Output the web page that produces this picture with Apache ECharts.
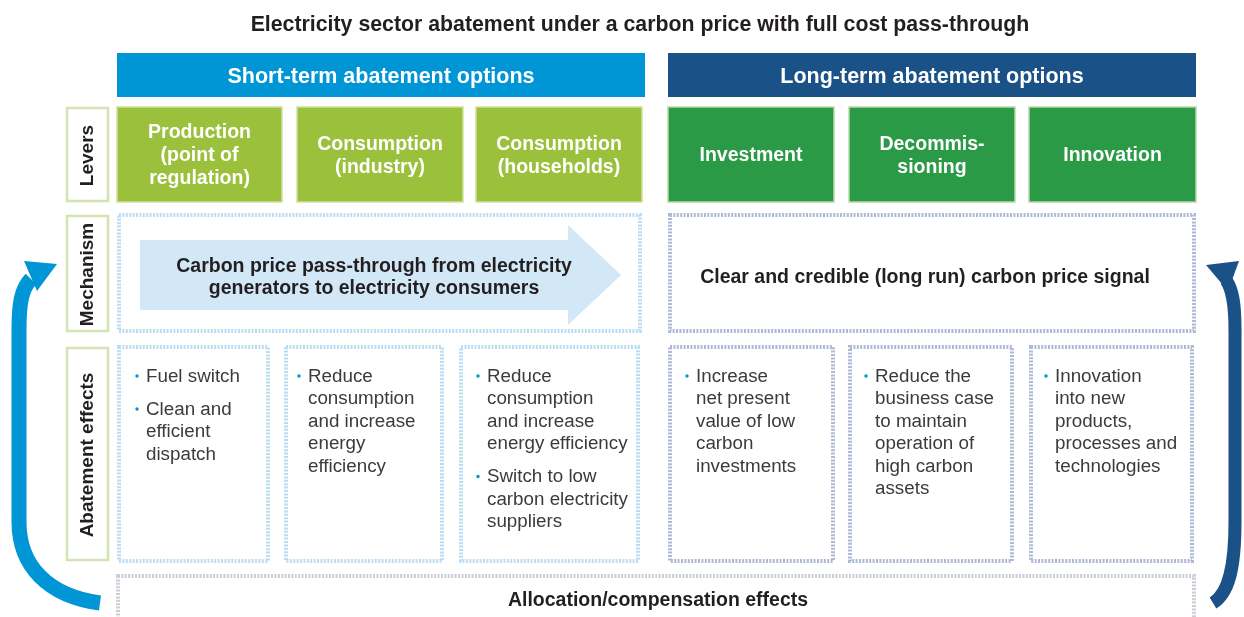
<!DOCTYPE html>
<html>
<head>
<meta charset="utf-8">
<script src="https://cdn.jsdelivr.net/npm/echarts@6/dist/echarts.min.js"></script>
<style>
html,body{margin:0;padding:0;background:#fff;}
#chart{width:1244px;height:617px;}
</style>
</head>
<body>
<div id="chart"></div>
<script>
// ---- content data ----
const title = 'Electricity sector abatement under a carbon price with full cost pass-through';
const horizons = ['Short-term abatement options', 'Long-term abatement options'];
const rowLabels = ['Levers', 'Mechanism', 'Abatement effects'];
const shortLevers = ['Production\n(point of\nregulation)', 'Consumption\n(industry)', 'Consumption\n(households)'];
const longLevers = ['Investment', 'Decommis-\nsioning', 'Innovation'];
const mechanisms = ['Carbon price pass-through from electricity\ngenerators to electricity consumers',
                    'Clear and credible (long run) carbon price signal'];
const effects = [
  [['Fuel switch'], ['Clean and', 'efficient', 'dispatch']],
  [['Reduce', 'consumption', 'and increase', 'energy', 'efficiency']],
  [['Reduce', 'consumption', 'and increase', 'energy efficiency'], ['Switch to low', 'carbon electricity', 'suppliers']],
  [['Increase', 'net present', 'value of low', 'carbon', 'investments']],
  [['Reduce the', 'business case', 'to maintain', 'operation of', 'high carbon', 'assets']],
  [['Innovation', 'into new', 'products,', 'processes and', 'technologies']]
];
const footer = 'Allocation/compensation effects';

// ---- layout ----
const FONT = '"Liberation Sans", Arial, Helvetica, sans-serif';
const C = {
  dark: '#231f20', text: '#3b3b3b', blue: '#0096d6', navy: '#1a5186',
  lightGreen: '#9bc13c', darkGreen: '#2a9a47', labelBorder: '#d4e4ae',
  dotLeft: '#bcdcf2', dotRight: '#afb8d6', dotBottom: '#cbced7', arrowFill: '#d3e8f7'
};
const headerBoxes = [[117, 645, C.blue], [668, 1196, C.navy]];
const leverX = [[117, 282], [297, 463], [476, 642], [668, 834], [849, 1015], [1029, 1196]];
const rowY = [[107, 202], [215, 332], [347, 561]];
const effectX = [[117, 270], [284, 444], [459, 640], [668, 835], [848, 1014], [1029, 1194]];
const textOffsets = [29, 24, 28, 28, 27, 26];

const g = [];
function txt(x, y, text, size, weight, fill, align, valign, lh, extra) {
  const el = {
    type: 'text', x: x, y: y, silent: true,
    style: {
      x: 0, y: 0, text: text, fill: fill,
      fontSize: size, fontWeight: weight, fontFamily: FONT,
      align: align, verticalAlign: valign, textAlign: align, textVerticalAlign: valign,
      lineHeight: lh || Math.round(size * 1.2)
    }
  };
  return Object.assign(el, extra || {});
}
function dotted(x1, y1, x2, y2, color) {
  g.push({
    type: 'rect', silent: true,
    shape: { x: x1 + 2, y: y1 + 2, width: x2 - x1 - 4, height: y2 - y1 - 4 },
    style: { fill: null, stroke: color, lineWidth: 4, lineDash: [2, 1.4] }
  });
}

// title
g.push(txt(640, 25.5, title, 21.3, 'bold', C.dark, 'center', 'middle'));

// horizon headers
headerBoxes.forEach((b, i) => {
  g.push({ type: 'rect', silent: true, shape: { x: b[0], y: 53, width: b[1] - b[0], height: 44 }, style: { fill: b[2] } });
  g.push(txt((b[0] + b[1]) / 2, 77.5, horizons[i], 21.5, 'bold', '#fff', 'center', 'middle'));
});

// row labels
rowLabels.forEach((lab, i) => {
  const y1 = rowY[i][0], y2 = rowY[i][1];
  g.push({ type: 'rect', silent: true, shape: { x: 67, y: y1 + 1, width: 41, height: y2 - y1 - 2 },
           style: { fill: '#fff', stroke: C.labelBorder, lineWidth: 2.5 } });
  g.push(txt(88, (y1 + y2) / 2 + 1, lab, 19, 'bold', C.dark, 'center', 'middle', 22, { rotation: Math.PI / 2 }));
});

// levers
const levers = shortLevers.concat(longLevers);
levers.forEach((lab, i) => {
  const x1 = leverX[i][0], x2 = leverX[i][1];
  const col = i < 3 ? C.lightGreen : C.darkGreen;
  const bord = i < 3 ? '#cfe19f' : '#b9d9a6';
  g.push({ type: 'rect', silent: true, shape: { x: x1, y: 107, width: x2 - x1, height: 95 },
           style: { fill: col, stroke: bord, lineWidth: 1.5 } });
  g.push(txt((x1 + x2) / 2, 156, lab, 19.5, 'bold', '#fff', 'center', 'middle', 23));
});

// mechanism row
dotted(117, 213, 642, 333, C.dotLeft);
dotted(668, 213, 1196, 333, C.dotRight);
g.push({ type: 'polygon', silent: true,
  shape: { points: [[140, 240], [568, 240], [568, 225], [621, 275], [568, 325], [568, 310], [140, 310]] },
  style: { fill: C.arrowFill } });
g.push(txt(374, 277.5, mechanisms[0], 19.5, 'bold', C.dark, 'center', 'middle', 22));
g.push(txt(925, 277.5, mechanisms[1], 19.5, 'bold', C.dark, 'center', 'middle', 22));

// abatement effects
effects.forEach((items, i) => {
  const x1 = effectX[i][0], x2 = effectX[i][1];
  dotted(x1, 345, x2, 563, i < 3 ? C.dotLeft : C.dotRight);
  let top = 365.5;
  const tx = x1 + textOffsets[i];
  items.forEach(lines => {
    g.push({ type: 'circle', silent: true, shape: { cx: tx - 9, cy: top + 10.5, r: 1.7 }, style: { fill: C.blue } });
    g.push(txt(tx, top, lines.join('\n'), 18.8, 'normal', C.text, 'left', 'top', 22.5));
    top += lines.length * 22.5 + 10.5;
  });
});

// footer
dotted(116, 574, 1196, 625, C.dotBottom);
g.push(txt(658, 600.5, footer, 19.5, 'bold', C.dark, 'center', 'middle'));

// side arrows
function sideArrow(pts, head, color, width) {
  const st = { fill: null, stroke: color, lineWidth: width, lineCap: 'butt' };
  g.push({ type: 'bezierCurve', silent: true,
    shape: { x1: pts[0][0], y1: pts[0][1], cpx1: pts[1][0], cpy1: pts[1][1], cpx2: pts[2][0], cpy2: pts[2][1], x2: pts[3][0], y2: pts[3][1] },
    style: st });
  g.push({ type: 'line', silent: true,
    shape: { x1: pts[3][0], y1: pts[3][1] + 0.5, x2: pts[4][0], y2: pts[4][1] - 0.5 }, style: st });
  g.push({ type: 'bezierCurve', silent: true,
    shape: { x1: pts[4][0], y1: pts[4][1], cpx1: pts[5][0], cpy1: pts[5][1], cpx2: pts[6][0], cpy2: pts[6][1], x2: pts[7][0], y2: pts[7][1] },
    style: st });
  g.push({ type: 'polygon', silent: true, shape: { points: head }, style: { fill: color } });
}
sideArrow([[100, 603], [48, 596], [19, 566], [19, 522], [19, 330], [19, 305], [21, 289], [31, 279]],
          [[24, 261], [57, 264], [37, 291]], C.blue, 15);
sideArrow([[1213, 603], [1228, 594], [1235, 570], [1235, 522], [1235, 330], [1235, 305], [1233, 290], [1226, 280]],
          [[1206, 265], [1239, 261], [1228, 291]], C.navy, 13);

const chart = echarts.init(document.getElementById('chart'), null, { renderer: 'canvas' });
chart.setOption({ backgroundColor: '#fff', animation: false, graphic: { elements: g } });
</script>
</body>
</html>
